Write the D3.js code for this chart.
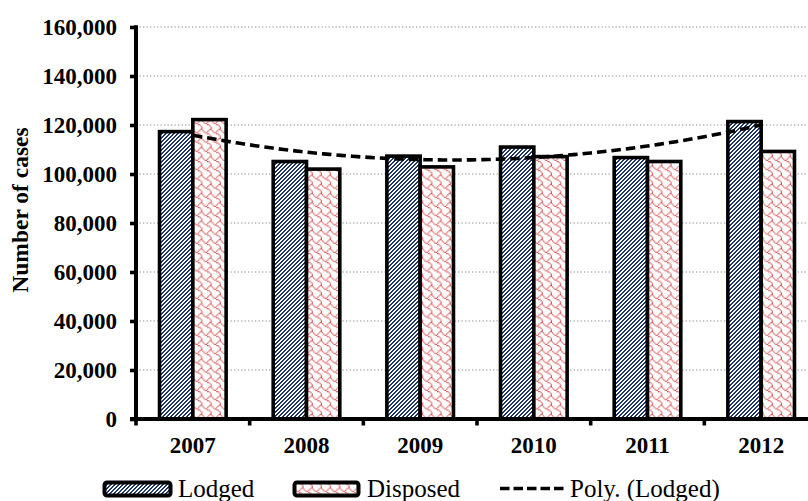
<!DOCTYPE html>
<html><head><meta charset="utf-8">
<script src="https://cdn.jsdelivr.net/npm/d3@7"></script>
<style>
html,body{margin:0;padding:0;background:#fff;overflow:hidden}
svg{display:block}
</style></head>
<body><svg id="chart" width="808" height="501"></svg>
<script>
const years = ["2007","2008","2009","2010","2011","2012"];
const lodged = [117300, 105100, 107300, 111000, 106700, 121400];
const disposed = [122200, 102000, 102900, 107100, 105100, 109200];
const yTicks = [0,20000,40000,60000,80000,100000,120000,140000,160000];
const seriesNames = ["Lodged","Disposed","Poly. (Lodged)"];

const svg = d3.select("#chart");
const plotL = 136, plotR = 818, plotT = 27, plotB = 419;
const serif = "'Liberation Serif','Times New Roman',serif";

const defs = svg.append("defs");
// Lodged: dark upward diagonal (4x4 pixel pattern)
const p1 = defs.append("pattern").attr("id","stripes").attr("patternUnits","userSpaceOnUse")
  .attr("width",4).attr("height",4);
p1.append("rect").attr("width",4).attr("height",4).attr("fill","#fff");
const stripePix = [[2,0],[3,0],[1,1],[2,1],[0,2],[1,2],[3,3],[0,3]];
p1.selectAll("rect.px").data(stripePix).join("rect").attr("class","px")
  .attr("x",d=>d[0]).attr("y",d=>d[1]).attr("width",1).attr("height",1).attr("fill","#1f3864")
  .attr("shape-rendering","crispEdges");
// Disposed: shingle (8x8 pixel pattern)
const p2 = defs.append("pattern").attr("id","shingle").attr("patternUnits","userSpaceOnUse")
  .attr("width",8).attr("height",8).attr("patternTransform","scale(1.15)");
p2.append("rect").attr("width",8).attr("height",8).attr("fill","#fff");
const shinglePix = [[6,0],[7,0],[0,1],[5,1],[1,2],[4,2],[2,3],[3,3],[4,4],[5,4],[6,5],[7,6],[7,7]];
p2.selectAll("rect.px").data(shinglePix).join("rect").attr("class","px")
  .attr("x",d=>d[0]).attr("y",d=>d[1]).attr("width",1).attr("height",1).attr("fill","#d44c4c");

const x0 = d3.scaleBand().domain(years).range([plotL,plotR]).paddingInner(0).paddingOuter(0);
const barW = 33.3;
const y = d3.scaleLinear().domain([0,160000]).range([plotB,plotT]);

// gridlines
svg.append("g").selectAll("line").data(yTicks.filter(d=>d>0)).join("line")
  .attr("x1",plotL).attr("x2",plotR).attr("y1",d=>y(d)).attr("y2",d=>y(d))
  .attr("stroke","#8c8c8c").attr("stroke-width",1.2).attr("stroke-dasharray","1.3,2.2");

// bars
const groups = svg.append("g").selectAll("g").data(years).join("g");
groups.append("rect")
  .attr("x",(d)=>x0(d)+x0.bandwidth()/2-barW).attr("width",barW)
  .attr("y",(d,i)=>y(lodged[i])).attr("height",(d,i)=>y(0)-y(lodged[i]))
  .attr("fill","url(#stripes)").attr("stroke","#000").attr("stroke-width",3.6);
groups.append("rect")
  .attr("x",(d)=>x0(d)+x0.bandwidth()/2).attr("width",barW)
  .attr("y",(d,i)=>y(disposed[i])).attr("height",(d,i)=>y(0)-y(disposed[i]))
  .attr("fill","url(#shingle)").attr("stroke","#000").attr("stroke-width",3.6);

// polynomial (order 2) trendline of Lodged, least squares
(function(){
  const n = lodged.length;
  const xs = d3.range(1,n+1);
  let S = [0,0,0,0,0], T = [0,0,0];
  xs.forEach((xv,i)=>{ for(let k=0;k<5;k++) S[k]+=Math.pow(xv,k); for(let k=0;k<3;k++) T[k]+=lodged[i]*Math.pow(xv,k); });
  const A = [[S[0],S[1],S[2],T[0]],[S[1],S[2],S[3],T[1]],[S[2],S[3],S[4],T[2]]];
  for(let i=0;i<3;i++){ for(let j=i+1;j<3;j++){ const f=A[j][i]/A[i][i]; for(let k=i;k<4;k++) A[j][k]-=f*A[i][k]; } }
  const c=[0,0,0];
  for(let i=2;i>=0;i--){ let s=A[i][3]; for(let k=i+1;k<3;k++) s-=A[i][k]*c[k]; c[i]=s/A[i][i]; }
  const xi = d3.scaleLinear().domain([1,n]).range([x0(years[0])+x0.bandwidth()/2, x0(years[n-1])+x0.bandwidth()/2]);
  const pts = d3.range(1,n+0.0001,0.05).map(t=>[xi(t), y(c[0]+c[1]*t+c[2]*t*t)]);
  svg.append("path").attr("d",d3.line()(pts)).attr("fill","none")
    .attr("stroke","#000").attr("stroke-width",3.6).attr("stroke-dasharray","9.5,5");
})();

// axes
const yAxis = svg.append("g").attr("transform",`translate(${plotL},0)`)
  .call(d3.axisLeft(y).tickValues(yTicks).tickFormat(d3.format(",")).tickSize(6).tickPadding(13));
yAxis.select(".domain").remove();
yAxis.selectAll(".tick line").attr("stroke","#000").attr("stroke-width",3.6);
yAxis.selectAll("text").attr("font-family",serif)
  .attr("font-weight","bold").attr("font-size","23px").attr("fill","#000");
svg.append("line").attr("x1",plotL).attr("x2",plotL).attr("y1",plotT-1.8).attr("y2",plotB+2)
  .attr("stroke","#000").attr("stroke-width",4);

const xTickScale = d3.scaleLinear().domain([0,years.length]).range([plotL,plotR]);
svg.append("g").selectAll("line").data(d3.range(0,years.length+1)).join("line")
  .attr("x1",d=>xTickScale(d)).attr("x2",d=>xTickScale(d)).attr("y1",plotB).attr("y2",plotB+6.5)
  .attr("stroke","#000").attr("stroke-width",3.6);
svg.append("line").attr("x1",plotL-6).attr("x2",plotR).attr("y1",plotB).attr("y2",plotB)
  .attr("stroke","#000").attr("stroke-width",4);
svg.append("g").selectAll("text").data(years).join("text")
  .attr("x",d=>x0(d)+x0.bandwidth()/2).attr("y",453)
  .attr("text-anchor","middle").attr("font-family",serif)
  .attr("font-weight","bold").attr("font-size","23px").text(d=>d);

// y title
svg.append("text").attr("transform","translate(28,210) rotate(-90)")
  .attr("text-anchor","middle").attr("font-family",serif)
  .attr("font-weight","bold").attr("font-size","23.5px").text("Number of cases");

// legend
const lg = svg.append("g");
lg.append("rect").attr("x",104.5).attr("y",482.5).attr("width",66).attr("height",13).attr("rx",2.5)
  .attr("fill","url(#stripes)").attr("stroke","#000").attr("stroke-width",4);
lg.append("text").attr("x",178).attr("y",497).attr("font-family",serif).attr("font-size","25px").text(seriesNames[0]);
lg.append("rect").attr("x",294.5).attr("y",482.5).attr("width",64).attr("height",13).attr("rx",2.5)
  .attr("fill","url(#shingle)").attr("stroke","#000").attr("stroke-width",4);
lg.append("text").attr("x",367).attr("y",497).attr("font-family",serif).attr("font-size","25px").text(seriesNames[1]);
lg.append("line").attr("x1",500).attr("x2",567).attr("y1",488.5).attr("y2",488.5)
  .attr("stroke","#000").attr("stroke-width",3.6).attr("stroke-dasharray","9.5,4");
lg.append("text").attr("x",570).attr("y",497).attr("font-family",serif).attr("font-size","25px").text(seriesNames[2]);
</script></body></html>
